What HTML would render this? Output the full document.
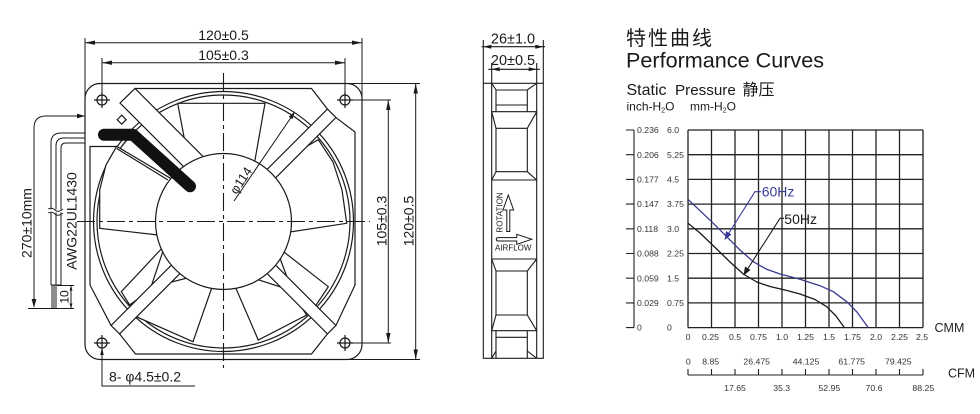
<!DOCTYPE html>
<html><head><meta charset="utf-8"><style>
html,body{margin:0;padding:0;background:#fff;}
svg{display:block;}
text{font-family:"Liberation Sans","Noto Sans CJK SC",sans-serif;}
</style></head><body>
<svg width="980" height="414" viewBox="0 0 980 414" xmlns="http://www.w3.org/2000/svg">
<rect x="0" y="0" width="980" height="414" fill="#fff"/>

<!-- ================= FRONT VIEW ================= -->
<g stroke="#1a1a1a" stroke-width="1.2" fill="none">
  <rect x="85" y="83.5" width="277" height="276" rx="15"/>
  <path d="M135,88.5 H311.5 L327.45,109.07 M335.93,117.55 L355,132 V285 L335.93,325.45 M327.45,333.93 L311.5,354 H135.5 L119.55,333.93 M111.07,325.45 L90,285 V146.5 H116.5"/>
  <circle cx="223.5" cy="221.5" r="130"/>
  <circle cx="223.5" cy="221.5" r="126.5"/>
  <!-- blades -->
  <g fill="#fff">
    <polygon points="177.7,103.3 265,103.3 255,160 223.5,200 188.3,160"/>
    <polygon points="272,166 318.3,139.7 333,162 342,190 346.7,223.3 291.7,231.7 265,215"/>
    <polygon points="275,245 328.3,286.7 315,306.7 290,285"/>
    <polygon points="228,270 258.3,340 306.7,315 290,290"/>
    <polygon points="218,270 193,341.7 136.3,316.7 160,285"/>
    <polygon points="165,245 121.3,291.7 129.7,305 150,290"/>
    <polygon points="116.7,146.3 175,181 175,230 158,235 99.7,228.3 99.7,190 106,165"/>
    <!-- struts -->
    <polygon points="270.17,183.31 335.93,117.55 327.45,109.07 261.69,174.83"/>
    <polygon points="270.17,259.69 335.93,325.45 327.45,333.93 261.69,268.17"/>
    <polygon points="185.31,268.17 119.55,333.93 111.07,325.45 176.83,259.69"/>
    <polygon points="120,103 135,88.5 210,163.5 195,178"/>
    <!-- hub -->
    <circle cx="223.5" cy="221.5" r="68"/>
  </g>
  <line x1="116.7" y1="148.5" x2="168" y2="180"/>
  <polygon points="121.7,115.2 126.2,119.7 121.7,124.2 117.2,119.7" fill="#fff"/>
  <!-- holes -->
  <circle cx="102" cy="100" r="5"/><path d="M94,100 H110 M102,92 V108"/>
  <circle cx="345" cy="100" r="5"/><path d="M337,100 H353 M345,92 V108"/>
  <circle cx="102" cy="343" r="5"/><path d="M94,343 H110 M102,335 V351"/>
  <circle cx="345" cy="343" r="5"/><path d="M337,343 H353 M345,335 V351"/>
</g>
<!-- cable -->
<path d="M104,134.7 L133,134.7 L190,186.3" stroke="#111" stroke-width="12" fill="none" stroke-linecap="round" stroke-linejoin="round"/>
<!-- center lines -->
<g stroke="#1a1a1a" stroke-width="1.1" fill="none" stroke-dasharray="18,4,4,4">
  <line x1="223.5" y1="73" x2="223.5" y2="368"/>
  <line x1="77" y1="221.5" x2="370" y2="221.5"/>
</g>
<!-- phi 114 -->
<g stroke="#1a1a1a" stroke-width="1" fill="none">
  <line x1="234" y1="201" x2="293" y2="114.5"/>
</g>
<polygon points="295,111.3 292.4,119.2 288.8,116.8" fill="#1a1a1a"/>
<text x="244.7" y="183" font-size="13" text-anchor="middle" transform="rotate(-56.6 244.7 183)" fill="#1a1a1a">φ114</text>

<!-- top dims -->
<g stroke="#1a1a1a" stroke-width="1" fill="none">
  <path d="M85,38 V98 M362,38 V98 M102,58 V95 M345,58 V95"/>
  <path d="M85,42.7 H362 M102,62.7 H345"/>
  <path d="M330,83.5 H420 M350,100 H391 M350,343 H391 M330,359.5 H420"/>
  <path d="M388.3,100 V343 M415.7,83.5 V359.5"/>
</g>
<g fill="#1a1a1a">
  <polygon points="85,42.7 95,40.5 95,44.9"/><polygon points="362,42.7 352,40.5 352,44.9"/>
  <polygon points="102,62.7 112,60.5 112,64.9"/><polygon points="345,62.7 335,60.5 335,64.9"/>
  <polygon points="388.3,100 386.1,110 390.5,110"/><polygon points="388.3,343 386.1,333 390.5,333"/>
  <polygon points="415.7,83.5 413.5,93.5 417.9,93.5"/><polygon points="415.7,359.5 413.5,349.5 417.9,349.5"/>
</g>
<g font-size="14" fill="#1a1a1a" text-anchor="middle">
  <text x="223.5" y="40">120±0.5</text>
  <text x="223.5" y="60">105±0.3</text>
  <text transform="translate(386.3,221) rotate(-90)">105±0.3</text>
  <text transform="translate(413.5,221) rotate(-90)">120±0.5</text>
</g>

<!-- left wires and dims -->
<g stroke="#1a1a1a" stroke-width="1" fill="none">
  <path d="M85,133 H61 Q51,133 51,143 V285"/>
  <path d="M85,138 H64 Q56,138 56,146 V285"/>
  <path d="M85,143 H66 Q61,143 61,148 V285"/>
  <path d="M51,285 H61"/>
  <path d="M52,285 V308 M54,285 V308 M56,285 V308"/>
  <path d="M85,116 H46 Q34,116 34,128 V306"/>
  <path d="M28,308.5 H74 M57,285.5 H74 M71,285.5 V308.5"/>
</g>
<g stroke="#fff" stroke-width="3" fill="none"><path d="M49,211 H63"/></g>
<g stroke="#1a1a1a" stroke-width="0.9" fill="none"><path d="M48,209 Q52,207 55,210 T63,209 M48,213 Q52,211 55,214 T63,213"/></g>
<g fill="#1a1a1a">
  <polygon points="85,116 77,113.6 77,118.4"/>
  <polygon points="34,308 31.6,299 36.4,299"/>
  <polygon points="71,285.5 69.5,290.5 72.5,290.5"/>
  <polygon points="71,308.5 69.5,303.5 72.5,303.5"/>
  <polygon points="102,348 100.2,355 103.8,355"/>
</g>
<g stroke="#1a1a1a" stroke-width="1" fill="none"><path d="M102,352 V386 H195"/></g>
<g font-size="14" fill="#1a1a1a">
  <text transform="translate(31.5,223) rotate(-90)" text-anchor="middle">270±10mm</text>
  <text transform="translate(76.5,221) rotate(-90)" text-anchor="middle">AWG22UL1430</text>
  <text transform="translate(68.5,297) rotate(-90)" text-anchor="middle" font-size="12">10</text>
  <text x="109" y="381.5">8- φ4.5±0.2</text>
</g>

<!-- ================= SIDE VIEW ================= -->
<g stroke="#1a1a1a" stroke-width="1.1" fill="none">
  <rect x="483.3" y="83.3" width="60" height="275"/>
  <path d="M491.7,83.3 V358.3 M536.7,83.3 V358.3"/>
  <path d="M491.7,83.3 L496,90 H527.3 L536.7,83.3 M496,90 V111.7 M527.3,90 V111.7 M496,105 H527.3 M491.7,111.7 H536.7 M491.7,111.7 L496,128.3 H527.3 L536.7,111.7 M496,128.3 V171.7 M527.3,128.3 V171.7 M496,171.7 H527.3 M496,171.7 L491.7,180 M527.3,171.7 L536.7,180 M491.7,180 H536.7"/>
  <path d="M491.7,259 H536.7 M491.7,259 L496,271 H527.3 L536.7,259 M496,271 V315 M527.3,271 V315 M496,315 H527.3 M496,315 L491.7,330.7 M527.3,315 L536.7,330.7 M491.7,330.7 H536.7 M496,330.7 V358.3 M527.3,330.7 V358.3 M496,337.3 H527.3 M527.3,351 L536.7,358.3 M496,351 L491.7,358.3"/>
  <path d="M483.3,40 V83 M543.3,40 V83 M491.7,63 V83 M536.7,63 V83"/>
  <path d="M481.7,46.7 H545 M488.3,69.3 H540"/>
  <!-- rotation arrow -->
  <path d="M506.8,231.5 V210 H503 L508.3,195 L513.6,210 H509.8 V231.5 Z" stroke-width="1"/>
  <!-- airflow arrow -->
  <path d="M498,237.6 H516.7 V234.3 L531.7,239.3 L516.7,244.3 V241 H498 Q496.3,241 496.3,239.3 Q496.3,237.6 498,237.6 Z" stroke-width="1"/>
</g>
<g fill="#1a1a1a">
  <polygon points="483.3,46.7 491.3,44.7 491.3,48.7"/><polygon points="543.3,46.7 535.3,44.7 535.3,48.7"/>
  <polygon points="491.7,69.3 499.7,67.3 499.7,71.3"/><polygon points="536.7,69.3 528.7,67.3 528.7,71.3"/>
</g>
<g fill="#1a1a1a">
  <text x="513" y="43.3" font-size="14.5" text-anchor="middle">26±1.0</text>
  <text x="513" y="65" font-size="14.5" text-anchor="middle">20±0.5</text>
  <text transform="translate(502.5,212.5) rotate(-90)" font-size="8" text-anchor="middle">ROTATION</text>
  <text x="495" y="250.7" font-size="8">AIRFLOW</text>
</g>

<!-- ================= PERFORMANCE CURVES ================= -->
<g fill="#1a1a1a">
  <text x="626" y="45" font-size="20" font-family="'Noto Sans CJK SC',sans-serif" letter-spacing="2">特性曲线</text>
  <text x="626" y="67.3" font-size="21.6">Performance Curves</text>
  <text x="626.5" y="95" font-size="16">Static</text>
  <text x="675" y="95" font-size="15.2">Pressure</text>
  <text x="742.5" y="95" font-size="16" font-family="'Noto Sans CJK SC',sans-serif">静压</text>
  <text x="626.5" y="110.7" font-size="12">inch-H<tspan font-size="7" dy="2">2</tspan><tspan dy="-2">O</tspan></text>
  <text x="690" y="110.7" font-size="12">mm-H<tspan font-size="7" dy="2">2</tspan><tspan dy="-2">O</tspan></text>
</g>
<!-- grid -->
<g stroke="#222" stroke-width="1.3" fill="none">
  <path d="M688,130 V327.6 M711.5,130 V327.6 M735,130 V327.6 M758.5,130 V327.6 M782,130 V327.6 M805.5,130 V327.6 M829,130 V327.6 M852.5,130 V327.6 M876,130 V327.6 M899.5,130 V327.6 M923,130 V327.6"/>
  <path d="M688,130 H923 M688,154.7 H923 M688,179.4 H923 M688,204.1 H923 M688,228.8 H923 M688,253.5 H923 M688,278.2 H923 M688,302.9 H923 M688,327.6 H923"/>
</g>
<!-- left axis -->
<g stroke="#222" stroke-width="1.1" fill="none">
  <path d="M634,130 V327.6 M626,130 H634 M626,154.7 H634 M626,179.4 H634 M626,204.1 H634 M626,228.8 H634 M626,253.5 H634 M626,278.2 H634 M626,302.9 H634 M626,327.6 H634"/>
</g>
<g font-size="8.7" fill="#333">
  <text x="637" y="133.1">0.236</text><text x="667" y="133.1">6.0</text>
  <text x="637" y="157.8">0.206</text><text x="667" y="157.8">5.25</text>
  <text x="637" y="182.5">0.177</text><text x="667" y="182.5">4.5</text>
  <text x="637" y="207.2">0.147</text><text x="667" y="207.2">3.75</text>
  <text x="637" y="231.9">0.118</text><text x="667" y="231.9">3.0</text>
  <text x="637" y="256.6">0.088</text><text x="667" y="256.6">2.25</text>
  <text x="637" y="281.3">0.059</text><text x="667" y="281.3">1.5</text>
  <text x="637" y="306">0.029</text><text x="667" y="306">0.75</text>
  <text x="637" y="330.7">0</text><text x="667" y="330.7">0</text>
</g>
<g font-size="8.7" fill="#333" text-anchor="middle">
  <text x="688" y="340">0</text><text x="710.5" y="340">0.25</text><text x="735" y="340">0.5</text>
  <text x="758.5" y="340">0.75</text><text x="782" y="340">1.0</text><text x="805.5" y="340">1.25</text>
  <text x="829" y="340">1.5</text><text x="852.5" y="340">1.75</text><text x="876" y="340">2.0</text>
  <text x="899.5" y="340">2.25</text><text x="922" y="340">2.5</text>
</g>
<text x="934.5" y="332" font-size="12.5" font-family="'Liberation Mono',monospace" fill="#222">CMM</text>
<!-- CFM axis -->
<g stroke="#222" stroke-width="1.1" fill="none">
  <path d="M688,375 H923 M688,369 V375 M711.5,369 V375 M735,369 V375 M758.5,369 V375 M782,369 V375 M805.5,369 V375 M829,369 V375 M852.5,369 V375 M876,369 V375 M899.5,369 V375 M923,369 V375"/>
</g>
<g font-size="8.7" fill="#333" text-anchor="middle">
  <text x="688.3" y="364.3">0</text><text x="710.7" y="364.3">8.85</text><text x="756.7" y="364.3">26.475</text>
  <text x="806" y="364.3">44.125</text><text x="851.7" y="364.3">61.775</text><text x="898.3" y="364.3">79.425</text>
  <text x="735" y="391">17.65</text><text x="781.7" y="391">35.3</text><text x="829.3" y="391">52.95</text>
  <text x="874" y="391">70.6</text><text x="923.3" y="391">88.25</text>
</g>
<text x="948" y="377.3" font-size="12.5" font-family="'Liberation Mono',monospace" fill="#222">CFM</text>
<!-- curves -->
<polyline points="688,199.3 700,210.7 713.3,223.3 726.7,236.7 740,250 753.3,261.7 766.7,269.3 780,274 800,279.3 820,285.7 833.3,291.7 846.7,301.7 856.7,311.7 868.3,327.6" stroke="#3b3b8f" stroke-width="1.3" fill="none" stroke-linejoin="round"/>
<polyline points="688,223.3 700,233 716.7,249 730,262 743.3,274 756.7,282 770,286.5 785,290 800,294 815,299.5 826.7,306.7 836,316 844.3,327.6" stroke="#1a1a1a" stroke-width="1.3" fill="none" stroke-linejoin="round"/>
<!-- leaders -->
<path d="M761,191.7 H755 L727,236" stroke="#3b3b9b" stroke-width="1.1" fill="none"/>
<polygon points="724.5,240 726,231 731.5,234.5" fill="#3b3b9b"/>
<path d="M784,218.3 H780 L746,271.5" stroke="#1a1a1a" stroke-width="1.1" fill="none"/>
<polygon points="743.5,275.5 745,266.5 750.5,270" fill="#1a1a1a"/>
<text x="761.7" y="196.7" font-size="14" fill="#3b3b9b">60Hz</text>
<text x="784.3" y="224" font-size="14" fill="#1a1a1a">50Hz</text>
</svg>
</body></html>
